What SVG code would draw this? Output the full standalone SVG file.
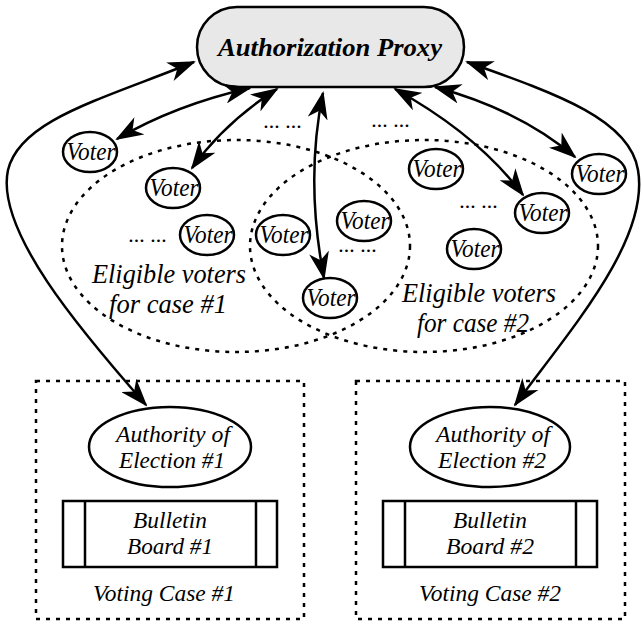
<svg xmlns="http://www.w3.org/2000/svg" width="643" height="625" viewBox="0 0 643 625">
  <defs>
    <marker id="head" viewBox="0 0 28 20" markerUnits="userSpaceOnUse" markerWidth="28" markerHeight="20" refX="26" refY="10" orient="auto-start-reverse">
      <path d="M0,0 L28,10 L0,20 L8,10 Z" fill="#000"/>
    </marker>
    <style>
      text { font-family: "Liberation Serif", "Times New Roman", serif; }
      .lbl { font-style: italic; fill: #000; text-anchor: middle; }
      .voter ellipse { fill: #fff; stroke: #000; stroke-width: 2.5; }
      .voter text { font-size: 25px; }
      .dots { font-size: 22px; }
      .group { fill: none; stroke: #000; stroke-width: 2.5; stroke-dasharray: 4 6; }
      .shape { fill: #fff; stroke: #000; stroke-width: 2.5; }
      .link { fill: none; stroke: #000; stroke-width: 2.5; marker-start: url(#head); marker-end: url(#head); }
    </style>
  </defs>

  <rect width="643" height="625" fill="#fff"/>

  <!-- eligible voter sets -->
  <g id="set1">
    <ellipse class="group" cx="236" cy="246" rx="174" ry="106"/>
    <text class="lbl" x="169" y="283" font-size="27" textLength="154" lengthAdjust="spacingAndGlyphs">Eligible voters</text>
    <text class="lbl" x="168" y="313" font-size="27" textLength="118" lengthAdjust="spacingAndGlyphs">for case #1</text>
  </g>
  <g id="set2">
    <ellipse class="group" cx="424" cy="246" rx="174" ry="106"/>
    <text class="lbl" x="479" y="302" font-size="27" textLength="154" lengthAdjust="spacingAndGlyphs">Eligible voters</text>
    <text class="lbl" x="473" y="332" font-size="27" textLength="112" lengthAdjust="spacingAndGlyphs">for case #2</text>
  </g>

  <!-- voting case containers -->
  <g id="case1">
    <rect class="group" x="36" y="381" width="268" height="238"/>
    <text class="lbl" x="164" y="601" font-size="24" textLength="142" lengthAdjust="spacingAndGlyphs">Voting Case #1</text>
  </g>
  <g id="case2">
    <rect class="group" x="356" y="381" width="269" height="238"/>
    <text class="lbl" x="490" y="601" font-size="24" textLength="142" lengthAdjust="spacingAndGlyphs">Voting Case #2</text>
  </g>

  <!-- proxy -->
  <g id="proxy">
    <rect x="197" y="7" width="267" height="80" rx="40" ry="40" fill="#e8e8e8" stroke="#000" stroke-width="2.5"/>
    <text class="lbl" x="330" y="56" font-size="26" font-weight="bold" textLength="224" lengthAdjust="spacingAndGlyphs">Authorization Proxy</text>
  </g>

  <!-- authorities -->
  <g id="authority1">
    <ellipse class="shape" cx="170" cy="447" rx="81" ry="40"/>
    <text class="lbl" x="173" y="442" font-size="24" textLength="114" lengthAdjust="spacingAndGlyphs">Authority of</text>
    <text class="lbl" x="172" y="468" font-size="24" textLength="106" lengthAdjust="spacingAndGlyphs">Election #1</text>
  </g>
  <g id="authority2">
    <ellipse class="shape" cx="490" cy="447" rx="80" ry="40"/>
    <text class="lbl" x="493" y="442" font-size="24" textLength="114" lengthAdjust="spacingAndGlyphs">Authority of</text>
    <text class="lbl" x="492" y="468" font-size="24" textLength="108" lengthAdjust="spacingAndGlyphs">Election #2</text>
  </g>

  <!-- bulletin boards -->
  <g id="board1">
    <rect class="shape" x="63" y="501" width="214" height="66"/>
    <line x1="85" y1="501" x2="85" y2="567" stroke="#000" stroke-width="2.5"/>
    <line x1="256" y1="501" x2="256" y2="567" stroke="#000" stroke-width="2.5"/>
    <text class="lbl" x="170" y="528" font-size="24" textLength="74" lengthAdjust="spacingAndGlyphs">Bulletin</text>
    <text class="lbl" x="170" y="554" font-size="24" textLength="86" lengthAdjust="spacingAndGlyphs">Board #1</text>
  </g>
  <g id="board2">
    <rect class="shape" x="383" y="501" width="214" height="66"/>
    <line x1="405" y1="501" x2="405" y2="567" stroke="#000" stroke-width="2.5"/>
    <line x1="576" y1="501" x2="576" y2="567" stroke="#000" stroke-width="2.5"/>
    <text class="lbl" x="490" y="528" font-size="24" textLength="74" lengthAdjust="spacingAndGlyphs">Bulletin</text>
    <text class="lbl" x="490" y="554" font-size="24" textLength="88" lengthAdjust="spacingAndGlyphs">Board #2</text>
  </g>

  <!-- voters -->
  <g id="voter1" class="voter"><ellipse cx="90" cy="152" rx="27" ry="20"/><text class="lbl" x="91" y="160" textLength="49" lengthAdjust="spacingAndGlyphs">Voter</text></g>
  <g id="voter2" class="voter"><ellipse cx="173" cy="188" rx="27" ry="20"/><text class="lbl" x="174" y="196" textLength="49" lengthAdjust="spacingAndGlyphs">Voter</text></g>
  <g id="voter3" class="voter"><ellipse cx="207" cy="235" rx="27" ry="20"/><text class="lbl" x="208" y="243" textLength="49" lengthAdjust="spacingAndGlyphs">Voter</text></g>
  <g id="voter4" class="voter"><ellipse cx="283" cy="235" rx="27" ry="20"/><text class="lbl" x="284" y="243" textLength="49" lengthAdjust="spacingAndGlyphs">Voter</text></g>
  <g id="voter5" class="voter"><ellipse cx="330" cy="298" rx="27" ry="20"/><text class="lbl" x="331" y="306" textLength="49" lengthAdjust="spacingAndGlyphs">Voter</text></g>
  <g id="voter6" class="voter"><ellipse cx="364" cy="221" rx="27" ry="20"/><text class="lbl" x="365" y="229" textLength="49" lengthAdjust="spacingAndGlyphs">Voter</text></g>
  <g id="voter7" class="voter"><ellipse cx="436" cy="169" rx="27" ry="20"/><text class="lbl" x="437" y="177" textLength="49" lengthAdjust="spacingAndGlyphs">Voter</text></g>
  <g id="voter8" class="voter"><ellipse cx="474" cy="249" rx="27" ry="20"/><text class="lbl" x="475" y="257" textLength="49" lengthAdjust="spacingAndGlyphs">Voter</text></g>
  <g id="voter9" class="voter"><ellipse cx="542" cy="213" rx="27" ry="20"/><text class="lbl" x="543" y="221" textLength="49" lengthAdjust="spacingAndGlyphs">Voter</text></g>
  <g id="voter10" class="voter"><ellipse cx="599" cy="174" rx="27" ry="20"/><text class="lbl" x="600" y="182" textLength="49" lengthAdjust="spacingAndGlyphs">Voter</text></g>

  <!-- ellipsis marks for omitted voters -->
  <g id="more">
    <text class="lbl dots" x="283" y="128">... ...</text>
    <text class="lbl dots" x="391" y="127">... ...</text>
    <text class="lbl dots" x="148" y="242">... ...</text>
    <text class="lbl dots" x="479" y="208">... ...</text>
    <text class="lbl dots" x="358" y="252">... ...</text>
  </g>

  <!-- connectors -->
  <g id="connectors">
    <path class="link" d="M194,62 C100,100 20,120 8,170 C-5,230 80,330 146,405"/>
    <path class="link" d="M467,62 C560,95 630,120 638,170 C650,240 570,330 515,405"/>
    <path class="link" d="M250,88 Q175,105 117,139"/>
    <path class="link" d="M277,89 Q225,122 192,168"/>
    <path class="link" d="M323,93 Q305,180 324,278"/>
    <path class="link" d="M395,89 Q478,135 523,195"/>
    <path class="link" d="M435,87 Q520,110 575,157"/>
  </g>
</svg>
